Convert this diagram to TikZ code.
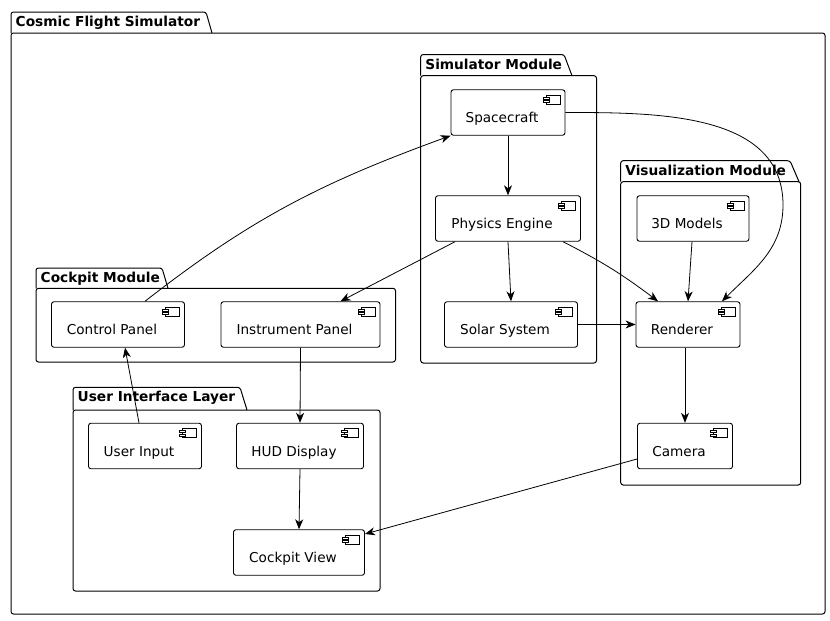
\documentclass[tikz,border=0pt]{standalone}
\usepackage{fontspec}
\setmainfont{DejaVu Sans}
\usetikzlibrary{%
	arrows.meta,%
	calc
}

\begin{document}
\begin{tikzpicture}[x=1pt,y=1pt,
		>={Stealth[length=10pt,width=8pt,inset=3pt]},
		pkg/.style={line width=1pt,rounded corners=2.5pt},
		pkgtitle/.style={anchor=base west,inner sep=0pt,font=\fontsize{13.7}{16}\selectfont\bfseries},
		comp/.style={draw,line width=0.9pt,rounded corners=2.5pt,minimum height=45.5pt,
			inner sep=0pt,text height=23pt,text depth=3pt,
			font=\fontsize{13.6}{16}\selectfont,
			execute at end node={\hspace*{12pt}},
			path picture={
				\draw[sharp corners,line width=0.6pt,fill=white]
					([shift={(-5,-5.5)}]path picture bounding box.north east) rectangle ++(-14,-9);
				\draw[sharp corners,line width=0.6pt,fill=white]
					([shift={(-16,-7.5)}]path picture bounding box.north east) rectangle ++(-6,-2);
				\draw[sharp corners,line width=0.6pt,fill=white]
					([shift={(-16,-11)}]path picture bounding box.north east) rectangle ++(-6,-2);
			}},
		flow/.style={->,line width=0.8pt}
	]
	\useasboundingbox (0,0) rectangle (830,-621);
	
	% Packages
	\draw[pkg] (11,-33) -- (11,-12) -- (206,-12) -- (212,-33);
	\draw[pkg] (11,-33) rectangle (825,-614);
	\node[pkgtitle] (cosmictitle) at (15.5,-26.5) {Cosmic Flight Simulator};
	
	\draw[pkg] (420.7,-75.7) -- (420.7,-54.5) -- (564,-54.5) -- (572,-75.7);
	\draw[pkg] (420.7,-75.7) rectangle (596.5,-363);
	\node[pkgtitle] (simtitle) at (425.2,-69) {Simulator Module};
	
	\draw[pkg] (620.7,-181.7) -- (620.7,-160.7) -- (790,-160.7) -- (799,-181.7);
	\draw[pkg] (620.7,-181.7) rectangle (800.7,-485);
	\node[pkgtitle] (vistitle) at (625.2,-175.2) {Visualization Module};
	
	\draw[pkg] (36,-288.3) -- (36,-268) -- (162,-268) -- (168,-288.3);
	\draw[pkg] (36,-288.3) rectangle (395.5,-362);
	\node[pkgtitle] (cockpittitle) at (40.5,-282.5) {Cockpit Module};
	
	\draw[pkg] (73,-410) -- (73,-387.3) -- (240,-387.3) -- (247,-410);
	\draw[pkg] (73,-410) rectangle (380,-591);
	\node[pkgtitle] (uititle) at (77.5,-401.8) {User Interface Layer};
	
	% Components
	\node[comp,minimum width=114pt] (spacecraft) at (508,-112.5) {Spacecraft};
	\node[comp,minimum width=145pt] (physics) at (508,-218.5) {Physics Engine};
	\node[comp,minimum width=133pt] (solar) at (511,-324.5) {Solar System};
	\node[comp,minimum width=112pt] (models) at (693,-218.5) {3D Models};
	\node[comp,minimum width=104pt] (renderer) at (688,-324.5) {Renderer};
	\node[comp,minimum width=95pt] (camera) at (685,-446) {Camera};
	\node[comp,minimum width=133pt] (control) at (118,-324.5) {Control Panel};
	\node[comp,minimum width=159pt] (instrument) at (300.5,-324.5) {Instrument Panel};
	\node[comp,minimum width=113pt] (userinput) at (145,-446) {User Input};
	\node[comp,minimum width=127pt] (hud) at (300,-446) {HUD Display};
	\node[comp,minimum width=131pt] (cockpitview) at (299,-552.5) {Cockpit View};
	
	% Connectors
	\coordinate (scbend) at (783,-205);
	\draw[flow] (spacecraft.south) -- (physics.north);
	\draw[flow] (physics.south) -- (solar.north);
	\draw[flow] ([xshift=-53pt]physics.south) -- ([xshift=40pt]instrument.north);
	\draw[flow] ([xshift=55pt]physics.south) to[out=-27,in=143] ([xshift=-30pt]renderer.north);
	\draw[flow] (spacecraft.east) to[out=0,in=90] (scbend) to[out=-90,in=45] ([xshift=34pt]renderer.north);
	\draw[flow] ([xshift=-1pt]models.south) -- (renderer.north);
	\draw[flow] (solar.east) -- (renderer.west);
	\draw[flow] ([xshift=-3pt]renderer.south) -- (camera.north);
	\draw[flow] ([yshift=-13pt]camera.west) -- ([yshift=18.5pt]cockpitview.east);
	\draw[flow] ([xshift=27pt]control.north) to[out=38,in=200] (spacecraft.south west);
	\draw[flow] ([xshift=-6pt]userinput.north) -- ([xshift=7pt]control.south);
	\draw[flow] (instrument.south) -- (hud.north);
	\draw[flow] (hud.south) -- (cockpitview.north);
\end{tikzpicture}
\end{document}
